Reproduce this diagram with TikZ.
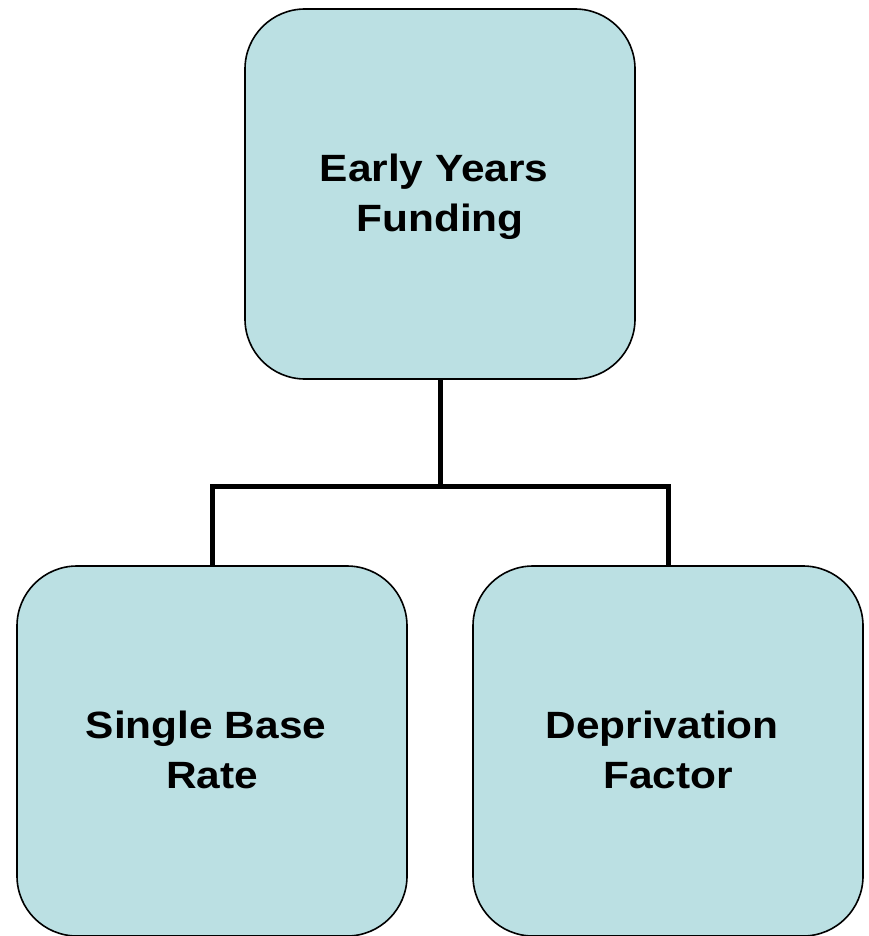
\documentclass[tikz,border=0pt]{standalone}
\usepackage{graphicx}
\usepackage{fontspec}
\setmainfont{Liberation Sans}
\usetikzlibrary{positioning}
\definecolor{boxfill}{RGB}{187,224,227}
% text in the boxes is set a little wider than it is high, and sits a bit low
\newcommand{\boxtext}[1]{\raisebox{-2.5pt}[\height][\depth]{\scalebox{1.116}[1]{\begin{tabular}{@{}c@{}}#1\end{tabular}}}}
\tikzset{
	fundbox/.style={draw=black,fill=boxfill,line width=1.6pt,rounded corners=60pt,minimum width=390pt,minimum height=370pt,inner sep=0pt,font=\fontsize{38}{49.5}\selectfont\bfseries},
	link/.style={line width=5pt}
}
\begin{document}
\begin{tikzpicture}[line join=round,x=1pt,y=-1pt]
		\useasboundingbox (0,0) rectangle (868,936);
		\node[fundbox] (early) at (440,194) {\boxtext{Early Years~\null\\Funding}};
		\node[fundbox] (base) at (212,751) {\boxtext{Single Base~\null\\Rate}};
		\node[fundbox] (depr) at (668,751) {\boxtext{Deprivation~\null\\Factor}};
		\coordinate (split) at (440,486);
		\draw[link] (early.south) -- (split);
		\draw[link,line join=miter] (base.north) |- (split) -| (depr.north);
	\end{tikzpicture}
\end{document}
